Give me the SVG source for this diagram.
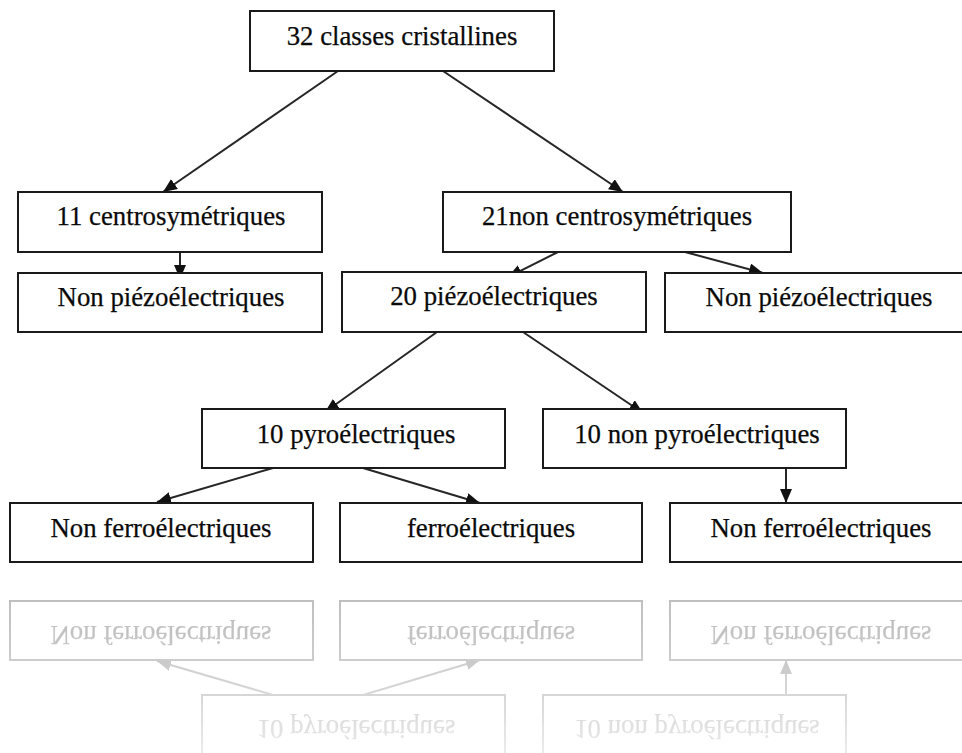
<svg xmlns="http://www.w3.org/2000/svg" xmlns:xlink="http://www.w3.org/1999/xlink" width="962" height="753" viewBox="0 0 962 753">
<style>
.box{fill:#fff;stroke:#1a1a1a;stroke-width:2}
.lbl{font-family:'Liberation Serif','DejaVu Serif',serif;font-size:26.8px;fill:#0a0a0a;stroke:#0a0a0a;stroke-width:0.25;text-anchor:middle}
.con{fill:none;stroke:#262626;stroke-width:2;marker-end:url(#arr)}
</style>
<defs>
<marker id="arr" markerUnits="userSpaceOnUse" markerWidth="16" markerHeight="14" refX="14" refY="6" orient="auto">
<path d="M0,0 L14,6 L0,12 Z" fill="#111"/>
</marker>
<linearGradient id="fade" gradientUnits="userSpaceOnUse" x1="0" y1="595" x2="0" y2="753">
<stop offset="0" stop-color="#4a4a4a"/>
<stop offset="0.55" stop-color="#333"/>
<stop offset="1" stop-color="#161616"/>
</linearGradient>
<mask id="refmask" maskUnits="userSpaceOnUse" x="0" y="580" width="962" height="173">
<rect x="0" y="580" width="962" height="173" fill="url(#fade)"/>
</mask>
<filter id="soft" x="-5%" y="-5%" width="110%" height="110%"><feGaussianBlur stdDeviation="0.7"/></filter>
</defs>
<rect width="962" height="753" fill="#fff"/>

<g id="connectors">
<path id="c1" class="con" d="M338,71 L163,192"/>
<path id="c2" class="con" d="M443,71 L623,192"/>
<path id="c3" class="con" d="M180,252 L180,279"/>
<path id="c4" class="con" d="M558,252 L508,277"/>
<path id="c5" class="con" d="M685,252 L763,273"/>
<path id="c6" class="con" d="M437,332 L325,412"/>
<path id="c7" class="con" d="M523,332 L643,413"/>
<path id="c8" class="con" d="M273,468 L157,502"/>
<path id="c9" class="con" d="M363,468 L480,503"/>
<path id="c10" class="con" d="M786,468 L786,503"/>
</g>

<g id="n-classes"><rect class="box" x="250" y="11" width="304" height="60"/><text class="lbl" x="402" y="45">32 classes cristallines</text></g>
<g id="n-centro"><rect class="box" x="18" y="192" width="304" height="60"/><text class="lbl" x="171" y="225">11 centrosymétriques</text></g>
<g id="n-noncentro"><rect class="box" x="443" y="192" width="348" height="60"/><text class="lbl" x="617" y="225">21non centrosymétriques</text></g>
<g id="n-nonpiezo1"><rect class="box" x="18" y="273" width="304" height="59"/><text class="lbl" x="171" y="306">Non piézoélectriques</text></g>
<g id="n-piezo"><rect class="box" x="342" y="272" width="304" height="60"/><text class="lbl" x="494" y="305">20 piézoélectriques</text></g>
<g id="n-nonpiezo2"><rect class="box" x="665" y="273" width="310" height="59"/><text class="lbl" x="819" y="306">Non piézoélectriques</text></g>
<g id="n-pyro"><rect class="box" x="202" y="409" width="303" height="59"/><text class="lbl" x="356" y="443">10 pyroélectriques</text></g>
<g id="n-nonpyro"><rect class="box" x="543" y="409" width="303" height="59"/><text class="lbl" x="697" y="443">10 non pyroélectriques</text></g>
<g id="n-nonferro1"><rect class="box" x="10" y="503" width="303" height="59"/><text class="lbl" x="161" y="537">Non ferroélectriques</text></g>
<g id="n-ferro"><rect class="box" x="340" y="503" width="302" height="59"/><text class="lbl" x="491" y="537">ferroélectriques</text></g>
<g id="n-nonferro2"><rect class="box" x="670" y="503" width="310" height="59"/><text class="lbl" x="821" y="537">Non ferroélectriques</text></g>

<g id="reflection" mask="url(#refmask)">
<g transform="matrix(1,0,0,-1,0,1163)" filter="url(#soft)">
<use xlink:href="#c6"/><use xlink:href="#c7"/><use xlink:href="#c8"/><use xlink:href="#c9"/><use xlink:href="#c10"/>
<use xlink:href="#n-pyro"/><use xlink:href="#n-nonpyro"/>
<use xlink:href="#n-nonferro1"/><use xlink:href="#n-ferro"/><use xlink:href="#n-nonferro2"/>
</g>
</g>
</svg>
